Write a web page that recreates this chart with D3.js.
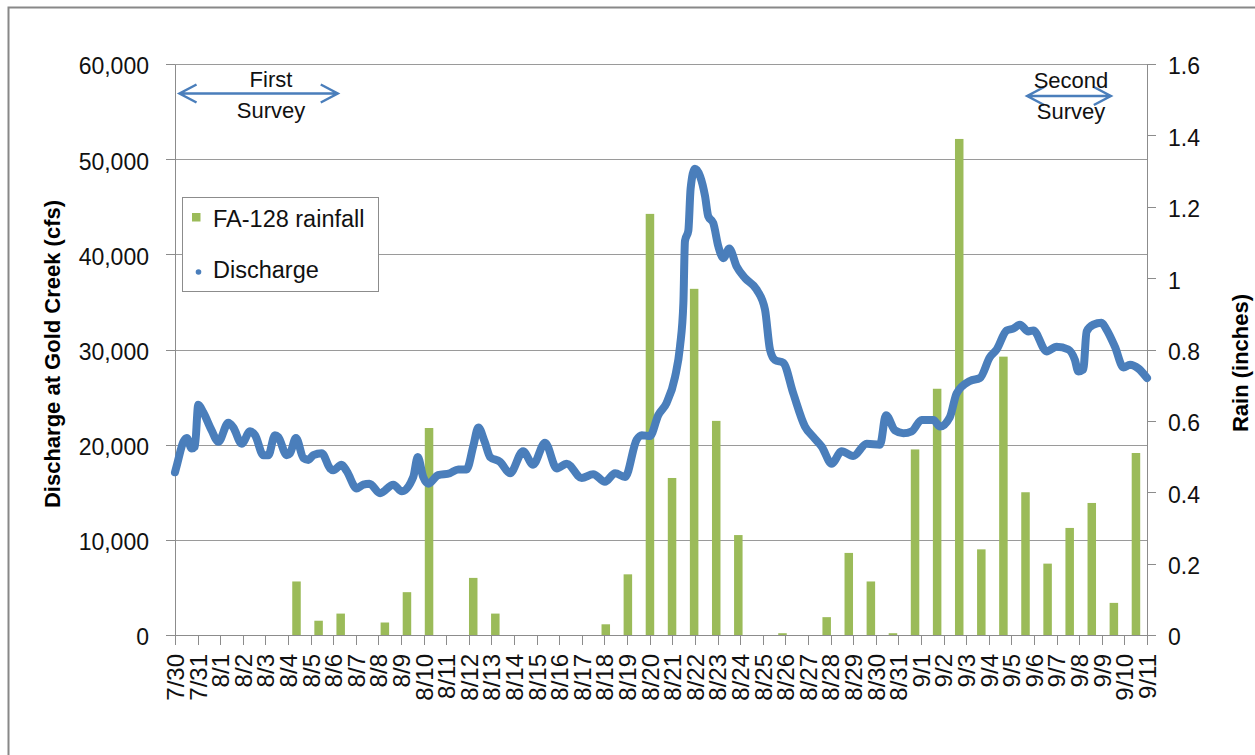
<!DOCTYPE html>
<html>
<head>
<meta charset="utf-8">
<script src="https://cdn.jsdelivr.net/npm/d3@7"></script>
<style>
  body { margin: 0; background: #fff; }
  svg { display: block; font-family: 'Liberation Sans', Arial, sans-serif; }
  .axis text { font-size: 23px; fill: #111; }
  .axis path, .axis line { stroke: #8c8c8c; stroke-width: 1; shape-rendering: crispEdges; }
  .xaxis text { font-size: 24px; }
  .title { font-size: 22px; font-weight: bold; fill: #000; }
  .note { font-size: 22px; fill: #111; }
</style>
</head>
<body>
<div id="chart"></div>
<script>
'use strict';

var dates = ['7/30', '7/31', '8/1', '8/2', '8/3', '8/4', '8/5', '8/6', '8/7', '8/8', '8/9',
  '8/10', '8/11', '8/12', '8/13', '8/14', '8/15', '8/16', '8/17', '8/18', '8/19', '8/20',
  '8/21', '8/22', '8/23', '8/24', '8/25', '8/26', '8/27', '8/28', '8/29', '8/30', '8/31',
  '9/1', '9/2', '9/3', '9/4', '9/5', '9/6', '9/7', '9/8', '9/9', '9/10', '9/11'];

// FA-128 daily rainfall, inches (one per date)
var rainfall = [0, 0, 0, 0, 0, 0.15, 0.04, 0.06, 0, 0.035, 0.12,
  0.58, 0, 0.16, 0.06, 0, 0, 0, 0, 0.03, 0.17, 1.18,
  0.44, 0.97, 0.60, 0.28, 0, 0.005, 0, 0.05, 0.23, 0.15, 0.005,
  0.52, 0.69, 1.39, 0.24, 0.78, 0.40, 0.20, 0.30, 0.37, 0.09, 0.51];

// discharge at Gold Creek: days after 7/30 and cfs
var flowDays = [0, 0.1, 0.37, 0.52, 0.74, 0.88, 1.03, 1.25, 1.62, 1.92, 2.36, 2.58, 2.95, 3.32,
  3.54, 3.91, 4.13, 4.42, 4.57, 4.94, 5.09, 5.35, 5.68, 5.9, 6.12, 6.49, 6.86, 7.0, 7.37, 7.6,
  8.04, 8.33, 8.6, 9.07, 9.66, 10.03, 10.54, 10.74, 10.98, 11.21, 11.64, 12.16, 12.53, 12.9,
  13.2, 13.42, 13.7, 13.94, 14.38, 14.82, 15.4, 15.84, 16.37, 16.89, 17.33, 17.99, 18.5, 19.02,
  19.47, 19.91, 20.42, 20.65, 21.01, 21.38, 21.75, 22.12, 22.34, 22.49, 22.56, 22.71, 22.81,
  23.0, 23.23, 23.45, 23.59, 23.81, 24.04, 24.26, 24.52, 24.85, 25.22, 25.73, 26.1, 26.32,
  26.54, 26.91, 27.35, 27.87, 28.24, 28.61, 29.05, 29.49, 30.0, 30.6, 31.19, 31.45, 31.85,
  32.22, 32.59, 33.03, 33.55, 33.84, 34.28, 34.58, 35.17, 35.61, 36.05, 36.35, 36.79, 37.08,
  37.38, 37.75, 37.97, 38.56, 39.0, 39.52, 39.81, 39.96, 40.18, 40.33, 40.62, 40.99, 41.21,
  41.58, 41.96, 42.25, 42.62, 43.0];

var flowCfs = [17100, 18000, 20300, 20700, 19600, 19800, 24200, 23400, 21500, 20300, 22300, 21800, 20100, 21400,
  21000, 18900, 18900, 21000, 20800, 18900, 19100, 20700, 18600, 18400, 18900, 19100, 17500, 17300, 17900, 17200,
  15400, 15800, 15900, 14900, 15800, 15100, 16600, 18700, 16600, 15900, 16800, 17000, 17400, 17400,
  19900, 21800, 20300, 18700, 18200, 17000, 19300, 17900, 20200, 17500, 18000, 16500, 16900, 16100,
  17000, 16600, 20500, 21000, 20900, 23100, 24400, 27100, 30300, 34900, 41400, 42500, 46900,
  49000, 48200, 46100, 44000, 43300, 40800, 39600, 40600, 38700, 37500, 36300, 34200, 30000,
  28900, 28600, 25400, 21900, 20800, 19800, 18000, 19300, 18800, 20100, 20000, 23100, 21500,
  21200, 21400, 22600, 22600, 21900, 22900, 25400, 26700, 27000, 29200, 30000, 32000, 32200,
  32600, 31900, 32000, 29800, 30300, 30000, 28900, 27700, 27900, 31900, 32600, 32800, 32100,
  30300, 28100, 28400, 28000, 27000];

var leftTicks = [0, 10000, 20000, 30000, 40000, 50000, 60000];
var rightTicks = [0, 0.2, 0.4, 0.6, 0.8, 1, 1.2, 1.4, 1.6];
var rightTickLabels = ['0', '0.2', '0.4', '0.6', '0.8', '1', '1.2', '1.4', '1.6'];

// survey windows, in days after 7/30
var firstSurvey = [0.2, 7.2];
var secondSurvey = [37.7, 41.4];

var blue = '#4a7ebb',
    green = '#9bbb59';

var width = 1255, height = 755;
var margin = {top: 64, right: 108, bottom: 120, left: 175};
var plotW = width - margin.left - margin.right,
    plotH = height - margin.top - margin.bottom;

var svg = d3.select('#chart').append('svg')
    .attr('width', width)
    .attr('height', height);

// chart frame
svg.append('rect')
  .attr('x', 8.5).attr('y', 7.5)
  .attr('width', 1270).attr('height', 770)
  .attr('fill', '#fff')
  .attr('stroke', '#888')
  .attr('stroke-width', 2);

var g = svg.append('g')
    .attr('transform', 'translate(' + margin.left + ',' + margin.top + ')');

var yLeft = d3.scaleLinear().domain([0, 60000]).range([plotH, 0]);
var yRight = d3.scaleLinear().domain([0, 1.6]).range([plotH, 0]);
var xDay = d3.scaleLinear().domain([0, dates.length - 1]).range([0, plotW]);
var xTick = d3.scalePoint().domain(dates).range([0, plotW]);
var xBand = d3.scaleBand().domain(dates).range([0, plotW]);

// gridlines
g.selectAll('.grid')
  .data(leftTicks)
  .enter()
  .append('line')
  .attr('class', 'grid')
  .attr('x1', 0).attr('x2', plotW)
  .attr('y1', function(d) { return Math.round(yLeft(d)) + 0.5; })
  .attr('y2', function(d) { return Math.round(yLeft(d)) + 0.5; })
  .attr('stroke', '#9a9a9a')
  .attr('stroke-width', 1);

// rainfall bars
var barW = xBand.bandwidth() * 0.385;
g.selectAll('.bar')
  .data(rainfall)
  .enter()
  .append('rect')
  .attr('class', 'bar')
  .attr('fill', green)
  .attr('x', function(d, i) { return xBand(dates[i]) + (xBand.bandwidth() - barW) / 2; })
  .attr('width', barW)
  .attr('y', function(d) { return yRight(d); })
  .attr('height', function(d) { return plotH - yRight(d); });

// axes
var leftAxis = g.append('g')
    .attr('class', 'axis')
    .call(d3.axisLeft(yLeft).tickValues(leftTicks).tickFormat(d3.format(',')).tickSize(9).tickPadding(17).tickSizeOuter(0));
leftAxis.selectAll('text').attr('dy', '0.43em');

var rightAxis = g.append('g')
    .attr('class', 'axis')
    .attr('transform', 'translate(' + plotW + ',0)')
    .call(d3.axisRight(yRight).tickValues(rightTicks)
      .tickFormat(function(d, i) { return rightTickLabels[i]; })
      .tickSize(9).tickPadding(12).tickSizeOuter(0));
rightAxis.selectAll('text').attr('dy', '0.43em');

var bottomAxis = g.append('g')
    .attr('class', 'axis xaxis')
    .attr('transform', 'translate(0,' + plotH + ')')
    .call(d3.axisBottom(xTick).tickSize(10).tickSizeOuter(0));
bottomAxis.selectAll('text')
  .attr('transform', 'rotate(-90)')
  .attr('x', -19)
  .attr('y', 0)
  .attr('dy', '0.35em')
  .style('text-anchor', 'end');

// discharge
var flow = flowDays.map(function(d, i) { return {t: d, v: flowCfs[i]}; });
var line = d3.line()
    .x(function(d) { return xDay(d.t); })
    .y(function(d) { return yLeft(d.v); })
    .curve(d3.curveMonotoneX);

g.append('path')
  .datum(flow)
  .attr('d', line)
  .attr('fill', 'none')
  .attr('stroke', blue)
  .attr('stroke-width', 8)
  .attr('stroke-linecap', 'round')
  .attr('stroke-linejoin', 'round');

// survey arrows
function drawArrow(span, y) {
  var x0 = xDay(span[0]), x1 = xDay(span[1]);
  g.append('path')
    .attr('d', 'M' + x0 + ',' + y + 'H' + x1 +
      'M' + (x0 + 17) + ',' + (y - 9) + 'L' + x0 + ',' + y + 'L' + (x0 + 17) + ',' + (y + 9) +
      'M' + (x1 - 17) + ',' + (y - 9) + 'L' + x1 + ',' + y + 'L' + (x1 - 17) + ',' + (y + 9))
    .attr('fill', 'none')
    .attr('stroke', blue)
    .attr('stroke-width', 2.5);
}
drawArrow(firstSurvey, 29.5);
drawArrow(secondSurvey, 32);

function drawNote(lines, cx, y0) {
  g.append('text')
    .attr('class', 'note')
    .attr('text-anchor', 'middle')
    .selectAll('tspan')
    .data(lines)
    .enter()
    .append('tspan')
    .attr('x', cx)
    .attr('y', function(d, i) { return y0 + i * 31; })
    .text(function(d) { return d; });
}
drawNote(['First', 'Survey'], 96, 23);
drawNote(['Second', 'Survey'], 896, 24);

// legend
var legend = g.append('g').attr('transform', 'translate(7,133)');
legend.append('rect')
  .attr('x', 0.5).attr('y', 0.5)
  .attr('width', 196).attr('height', 94)
  .attr('fill', '#fff')
  .attr('stroke', '#8c8c8c');
legend.append('rect')
  .attr('x', 10).attr('y', 16)
  .attr('width', 8.5).attr('height', 8.5)
  .attr('fill', green);
legend.append('circle')
  .attr('cx', 16.5).attr('cy', 75)
  .attr('r', 2.8)
  .attr('fill', blue);
legend.append('text')
  .attr('x', 31).attr('y', 30)
  .style('font-size', '23.5px')
  .attr('fill', '#111')
  .text('FA-128 rainfall');
legend.append('text')
  .attr('x', 31).attr('y', 81)
  .style('font-size', '23.5px')
  .attr('fill', '#111')
  .text('Discharge');

// axis titles
svg.append('text')
  .attr('class', 'title')
  .attr('text-anchor', 'middle')
  .attr('transform', 'translate(60,354) rotate(-90)')
  .text('Discharge at Gold Creek (cfs)');

svg.append('text')
  .attr('class', 'title')
  .attr('text-anchor', 'middle')
  .attr('transform', 'translate(1248,363) rotate(-90)')
  .text('Rain (inches)');
</script>
</body>
</html>
